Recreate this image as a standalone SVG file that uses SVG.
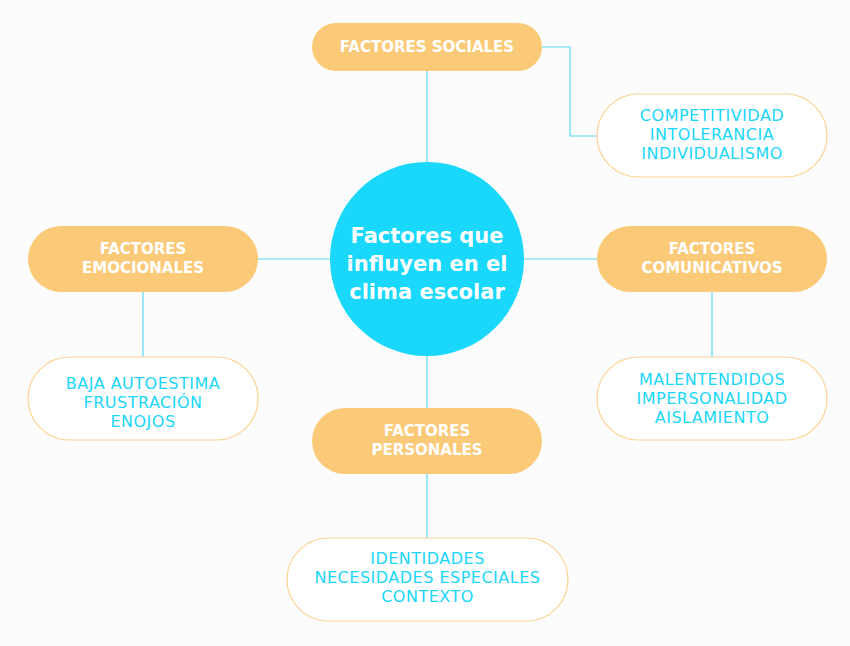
<svg xmlns="http://www.w3.org/2000/svg" width="850" height="646" viewBox="0 0 850 646">
<style>
.bg{fill:#fcfcfd}
.main{fill:#fbca78}
.leaf{fill:#ffffff;stroke:#fcd494;stroke-width:1.2}
.center{fill:#19d8fc}
.mt{font-family:"DejaVu Sans",sans-serif;font-weight:bold;font-size:15px;fill:#ffffff;text-anchor:middle}
.ct{font-family:"DejaVu Sans",sans-serif;font-weight:bold;font-size:21px;fill:#ffffff;text-anchor:middle}
.lt{font-family:"DejaVu Sans",sans-serif;font-size:16px;letter-spacing:0.5px;fill:#1ad6fb;text-anchor:middle}
.conn{fill:none;stroke:#5ad9f4;stroke-width:1.2}
</style>
<rect class="bg" x="0" y="0" width="850" height="646"/>
<g id="connectors">
<path class="conn" d="M427 71 V163"/>
<path class="conn" d="M542 47 H570 V136 H597"/>
<path class="conn" d="M258 259 H331"/>
<path class="conn" d="M523 259 H597"/>
<path class="conn" d="M143 292 V357"/>
<path class="conn" d="M712 292 V357"/>
<path class="conn" d="M427 355 V408"/>
<path class="conn" d="M427 474 V538"/>
</g>
<g id="center">
<circle class="center" cx="427" cy="259" r="97"/>
<text class="ct" x="427" y="243">Factores que</text>
<text class="ct" x="427" y="271">influyen en el</text>
<text class="ct" x="427" y="299">clima escolar</text>
</g>
<g id="sociales">
<rect class="main" x="312" y="23" width="230" height="48" rx="24"/>
<text class="mt" x="427" y="52">FACTORES SOCIALES</text>
</g>
<g id="sociales-leaf">
<rect class="leaf" x="597" y="94" width="230" height="83" rx="41.5"/>
<text class="lt" x="712" y="121">COMPETITIVIDAD</text>
<text class="lt" x="712" y="140">INTOLERANCIA</text>
<text class="lt" x="712" y="159">INDIVIDUALISMO</text>
</g>
<g id="emocionales">
<rect class="main" x="28" y="226" width="230" height="66" rx="33"/>
<text class="mt" x="143" y="254">FACTORES</text>
<text class="mt" x="143" y="273">EMOCIONALES</text>
</g>
<g id="emocionales-leaf">
<rect class="leaf" x="28" y="357" width="230" height="83" rx="41.5"/>
<text class="lt" x="143" y="389">BAJA AUTOESTIMA</text>
<text class="lt" x="143" y="408">FRUSTRACIÓN</text>
<text class="lt" x="143" y="427">ENOJOS</text>
</g>
<g id="comunicativos">
<rect class="main" x="597" y="226" width="230" height="66" rx="33"/>
<text class="mt" x="712" y="254">FACTORES</text>
<text class="mt" x="712" y="273">COMUNICATIVOS</text>
</g>
<g id="comunicativos-leaf">
<rect class="leaf" x="597" y="357" width="230" height="83" rx="41.5"/>
<text class="lt" x="712" y="385">MALENTENDIDOS</text>
<text class="lt" x="712" y="404">IMPERSONALIDAD</text>
<text class="lt" x="712" y="423">AISLAMIENTO</text>
</g>
<g id="personales">
<rect class="main" x="312" y="408" width="230" height="66" rx="33"/>
<text class="mt" x="427" y="436">FACTORES</text>
<text class="mt" x="427" y="455">PERSONALES</text>
</g>
<g id="personales-leaf">
<rect class="leaf" x="287" y="538" width="281" height="83" rx="41.5"/>
<text class="lt" x="427.5" y="564">IDENTIDADES</text>
<text class="lt" x="427.5" y="583">NECESIDADES ESPECIALES</text>
<text class="lt" x="427.5" y="602">CONTEXTO</text>
</g>
</svg>
